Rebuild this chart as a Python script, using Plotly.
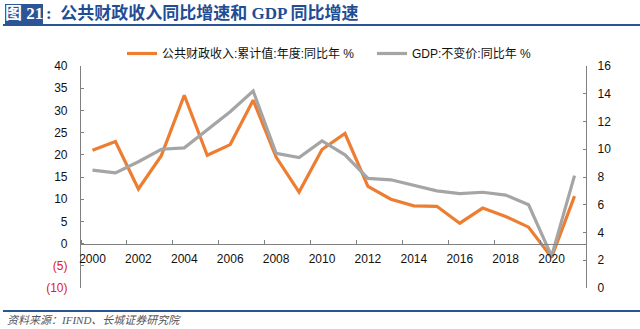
import plotly.graph_objects as go

# Annual data, 2000-2021
years = list(range(2000, 2022))
revenue_yoy = [21.0, 23.0, 12.3, 19.8, 33.4, 19.9, 22.3, 32.3, 19.5, 11.6,
               21.2, 24.8, 12.9, 10.0, 8.5, 8.4, 4.6, 8.0, 6.1, 3.7,
               -3.1, 10.7]
gdp_yoy = [8.5, 8.3, 9.1, 10.0, 10.1, 11.4, 12.7, 14.2, 9.7, 9.4,
           10.6, 9.6, 7.9, 7.8, 7.4, 7.0, 6.8, 6.9, 6.7, 6.0,
           2.3, 8.1]

left_ticks = [-10, -5, 0, 5, 10, 15, 20, 25, 30, 35, 40]
right_ticks = [0, 2, 4, 6, 8, 10, 12, 14, 16]
x_labels = list(range(2000, 2021, 2))

ORANGE = "#ED7D31"
GRAY = "#A5A5A5"
NAVY = "#1F4E96"
FONT = "Liberation Sans, Arial, Noto Sans CJK SC, sans-serif"


def left_label(v):
    if v < 0:
        return f'<span style="color:#DD2222">({abs(v)})</span>'
    return str(v)


fig = go.Figure()
fig.add_trace(go.Scatter(
    x=years, y=revenue_yoy, mode="lines", name="公共财政收入:累计值:年度:同比年 %",
    line=dict(color=ORANGE, width=3.2), yaxis="y"))
fig.add_trace(go.Scatter(
    x=years, y=gdp_yoy, mode="lines", name="GDP:不变价:同比年 %",
    line=dict(color=GRAY, width=3.2), yaxis="y2"))

L, R, T, B = 81, 54, 66, 41
plot_h = 329 - T - B
zero_pos = (0 - left_ticks[0]) / (left_ticks[-1] - left_ticks[0])

fig.update_layout(
    width=640, height=329,
    margin=dict(l=L, r=R, t=T, b=B, pad=0),
    paper_bgcolor="white", plot_bgcolor="white",
    font=dict(family=FONT, size=12, color="#111111"),
    showlegend=True,
    legend=dict(orientation="h", x=(122 - L) / 505, y=1 + (T - 39) / plot_h,
                xanchor="left", yanchor="top", entrywidth=205,
                font=dict(size=12, family=FONT, color="#111111"),
                bgcolor="rgba(0,0,0,0)", itemwidth=30),
    xaxis=dict(
        range=[1999.5, 2021.5], anchor="free", position=zero_pos,
        showline=True, linecolor="#808080", linewidth=1.2,
        tickmode="array", tickvals=x_labels, ticktext=[str(v) for v in x_labels],
        ticks="", showgrid=False, zeroline=False, ticklabelstandoff=4,
        tickfont=dict(size=12, color="#111111"),
        minor=dict(tickmode="linear", tick0=2001.5, dtick=2, ticks="inside",
                   ticklen=4, tickcolor="#808080", showgrid=False),
    ),
    yaxis=dict(
        range=[left_ticks[0], left_ticks[-1]],
        tickmode="array", tickvals=left_ticks,
        ticktext=[left_label(v) for v in left_ticks],
        showline=True, linecolor="#808080", linewidth=1.2,
        ticks="inside", ticklen=3, tickcolor="#808080",
        showgrid=False, zeroline=False, ticklabelstandoff=10,
        tickfont=dict(size=12, color="#111111"),
    ),
    yaxis2=dict(
        range=[right_ticks[0], right_ticks[-1]], overlaying="y", side="right",
        tickmode="array", tickvals=right_ticks,
        showline=True, linecolor="#808080", linewidth=1.2,
        ticks="inside", ticklen=3, tickcolor="#808080",
        showgrid=False, zeroline=False, ticklabelstandoff=8,
        tickfont=dict(size=12, color="#111111"),
    ),
)

# Header: numbered badge, title and rule
fig.add_shape(type="rect", xref="paper", yref="paper",
              x0=(5 - L) / 505, x1=(43 - L) / 505,
              y0=1 + (T - 24) / plot_h, y1=1 + (T - 4) / plot_h,
              fillcolor="#2A5597", line=dict(width=0), layer="above")
fig.add_annotation(xref="paper", yref="paper",
                   x=(24 - L) / 505, y=1 + (T - 14) / plot_h,
                   text="<b>图 21</b>", showarrow=False,
                   font=dict(family="Liberation Serif, Noto Sans CJK SC", size=17, color="white"),
                   xanchor="center", yanchor="middle")
fig.add_annotation(xref="paper", yref="paper",
                   x=(44 - L) / 505, y=1 + (T - 14) / plot_h,
                   text="<b>:  公共财政收入同比增速和 GDP 同比增速</b>", showarrow=False,
                   font=dict(family="Liberation Serif, Noto Sans CJK SC", size=17, color=NAVY),
                   xanchor="left", yanchor="middle")
fig.add_shape(type="line", xref="paper", yref="paper",
              x0=(3 - L) / 505, x1=(640 - L) / 505,
              y0=1 + (T - 25) / plot_h, y1=1 + (T - 25) / plot_h,
              line=dict(color="#2A5597", width=2))

# Footer: rule and source note
fig.add_shape(type="line", xref="paper", yref="paper",
              x0=(3 - L) / 505, x1=(640 - L) / 505,
              y0=-(311 - (329 - B)) / plot_h, y1=-(311 - (329 - B)) / plot_h,
              line=dict(color="#2A5597", width=2))
fig.add_annotation(xref="paper", yref="paper",
                   x=(5 - L) / 505, y=-(320 - (329 - B)) / plot_h,
                   text="<i>资料来源：IFIND、长城证券研究院</i>", showarrow=False,
                   font=dict(family="Liberation Serif, Noto Sans CJK SC", size=11, color="#555555"),
                   xanchor="left", yanchor="middle")

fig.write_html("out.html")
